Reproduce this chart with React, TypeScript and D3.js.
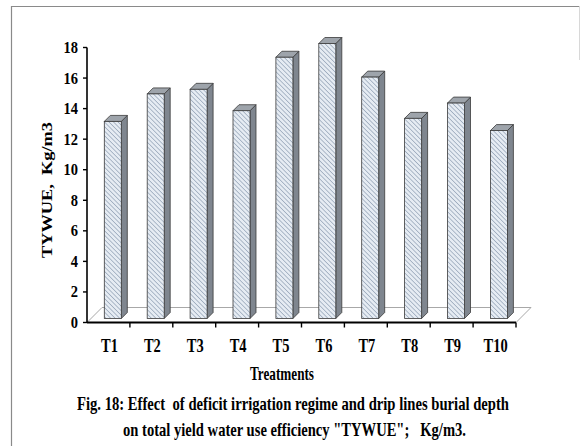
import React from "react";
import * as d3 from "d3";

const categories = ["T1", "T2", "T3", "T4", "T5", "T6", "T7", "T8", "T9", "T10"];
const values = [12.9, 14.7, 15.0, 13.6, 17.1, 18.0, 15.8, 13.1, 14.1, 12.3];
const yTicks = [0, 2, 4, 6, 8, 10, 12, 14, 16, 18];
const yTitle = "TYWUE,  Kg/m3";
const xTitle = "Treatments";
const caption1 = "Fig. 18: Effect  of deficit irrigation regime and drip lines burial depth";
const caption2 = "on total yield water use efficiency \"TYWUE\";   Kg/m3.";

const W = 581, H = 446;
const x0 = 87, x1 = 516, yBase = 322.5, yTop = 47.5;
const floorD = 15, barOff = 4, barD = 6;
const font = "'Liberation Serif', 'Times New Roman', serif";

function SText(props: { x: number; y: number; sy: number; size: number; anchor?: string; len?: number; children: any }) {
  const { x, y, sy, size, anchor = "middle", len, children } = props;
  return (
    <text
      transform={`translate(${x},${y}) scale(1,${sy})`}
      textAnchor={anchor}
      fontFamily={font}
      fontWeight="bold"
      fontSize={size}
      fill="#000"
      style={{ whiteSpace: "pre" }}
      {...(len ? { textLength: len, lengthAdjust: "spacingAndGlyphs" } : {})}
    >
      {children}
    </text>
  );
}

export default function App() {
  const x = d3.scaleBand<string>().domain(categories).range([x0, x1]).paddingInner(0).paddingOuter(0);
  const y = d3.scaleLinear().domain([0, 18]).range([yBase, yTop]);
  const bw = 17;
  const bars = categories.map((c, i) => {
    const left = (x(c) as number) + 17.3;
    const right = left + bw;
    const top = y(values[i]) - barOff;
    const bot = y(0) - barOff;
    return { c, left, right, top, bot };
  });
  return (
    <svg width={W} height={H} style={{ position: "absolute", left: 0, top: 0, background: "#fff" }}>
      <defs>
        <pattern id="hatch" width="3.2" height="3.2" patternUnits="userSpaceOnUse" patternTransform="rotate(-45)">
          <rect width="3.2" height="3.2" fill="#e6ecf3" />
          <line x1="0" y1="0" x2="0" y2="3.2" stroke="#8e9db2" strokeWidth="1.3" />
        </pattern>
      </defs>
      <rect x={0} y={0} width={W} height={H} fill="#fff" />
      <line x1={11.5} y1={6.5} x2={580} y2={6.5} stroke="#8a8a8a" strokeWidth={1.2} />
      <line x1={11.5} y1={6} x2={11.5} y2={H} stroke="#8a8a8a" strokeWidth={1.2} />
      <line x1={579.5} y1={6} x2={579.5} y2={60} stroke="#d8d8d8" strokeWidth={1} />
      {/* floor */}
      <path
        d={`M${x0},${yBase} L${x0 + floorD},${yBase - floorD} L${x1 + floorD},${yBase - floorD} L${x1},${yBase}`}
        fill="none" stroke="#a8a8a8" strokeWidth={1} />
      {/* bars */}
      {bars.map((b) => (
        <g key={b.c}>
          <path d={`M${b.right},${b.top} L${b.right + barD},${b.top - barD} L${b.right + barD},${b.bot - barD} L${b.right},${b.bot} Z`}
            fill="#7f868f" stroke="#3a3a3a" strokeWidth={0.8} />
          <path d={`M${b.left},${b.top} L${b.left + barD},${b.top - barD} L${b.right + barD},${b.top - barD} L${b.right},${b.top} Z`}
            fill="#9ea4ab" stroke="#3a3a3a" strokeWidth={0.8} />
          <rect x={b.left} y={b.top} width={bw} height={b.bot - b.top} fill="url(#hatch)" stroke="#3a3a3a" strokeWidth={0.8} />
        </g>
      ))}
      {/* y axis */}
      <line x1={x0} y1={yTop} x2={x0} y2={yBase} stroke="#000" strokeWidth={1.6} />
      {yTicks.map((t) => (
        <g key={t}>
          <line x1={x0 - 4} y1={y(t)} x2={x0} y2={y(t)} stroke="#000" strokeWidth={1.4} />
          <SText x={78} y={y(t) + 5.5} sy={1.2} size={14.5} anchor="end">{t}</SText>
        </g>
      ))}
      {/* x axis */}
      <line x1={x0} y1={yBase} x2={x1} y2={yBase} stroke="#000" strokeWidth={1.8} />
      {categories.map((c) => (
        <line key={"t" + c} x1={(x(c) as number) + x.bandwidth()} y1={yBase} x2={(x(c) as number) + x.bandwidth()} y2={yBase + 5} stroke="#000" strokeWidth={1.4} />
      ))}
      {categories.map((c) => (
        <SText key={"l" + c} x={(x(c) as number) + x.bandwidth() / 2 + 1} y={351.5} sy={1.35} size={14.5}>{c}</SText>
      ))}
      <text transform={`translate(52,190) rotate(-90)`} textAnchor="middle" fontFamily={font} fontWeight="bold" fontSize={15} textLength={136} lengthAdjust="spacingAndGlyphs" fill="#000" style={{ whiteSpace: "pre" }}>{yTitle}</text>
      <SText x={282} y={379.5} sy={1.4} size={14} len={64}>{xTitle}</SText>
      <SText x={293} y={409.5} sy={1.17} size={16.5} len={432}>{caption1}</SText>
      <SText x={294.5} y={435.5} sy={1.17} size={16.5} len={343}>{caption2}</SText>
    </svg>
  );
}
